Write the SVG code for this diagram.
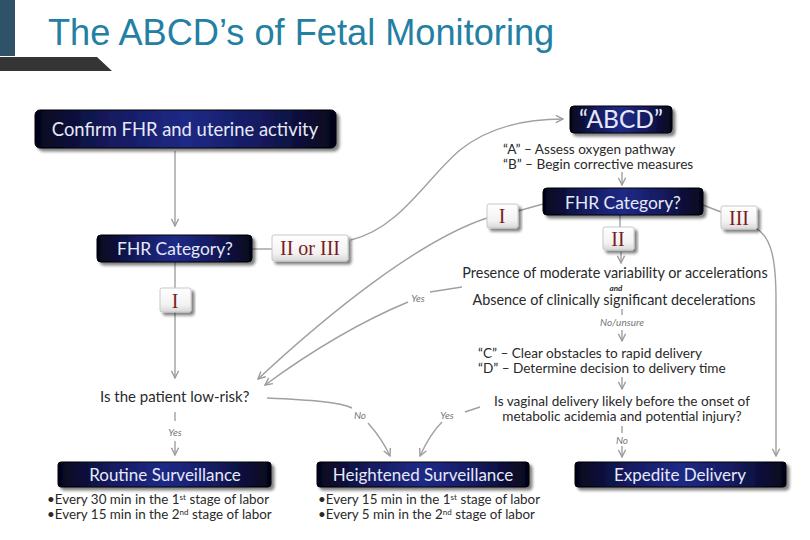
<svg xmlns="http://www.w3.org/2000/svg" width="810" height="540" viewBox="0 0 810 540">
<defs>
<linearGradient id="nav" x1="0" y1="0" x2="1" y2="0">
<stop offset="0" stop-color="#05051a"/>
<stop offset="0.25" stop-color="#141a5e"/>
<stop offset="0.5" stop-color="#1f2a86"/>
<stop offset="0.75" stop-color="#141a5e"/>
<stop offset="1" stop-color="#05051a"/>
</linearGradient>
<linearGradient id="key" x1="0" y1="0" x2="0" y2="1">
<stop offset="0" stop-color="#ffffff"/>
<stop offset="0.7" stop-color="#f2f2f2"/>
<stop offset="1" stop-color="#d8d8d8"/>
</linearGradient>
<filter id="sh" x="-10%" y="-20%" width="125%" height="160%">
<feGaussianBlur in="SourceAlpha" stdDeviation="1.5"/>
<feOffset dx="3" dy="3" result="b"/>
<feComponentTransfer><feFuncA type="linear" slope="0.5"/></feComponentTransfer>
<feMerge><feMergeNode/><feMergeNode in="SourceGraphic"/></feMerge>
</filter>
<marker id="arr" viewBox="0 0 10 10" refX="9" refY="5" markerWidth="9" markerHeight="9" markerUnits="userSpaceOnUse" orient="auto">
<path d="M1,1 L9,5 L1,9" fill="none" stroke="#9a9a9a" stroke-width="1.5"/>
</marker>
</defs>
<style>
.box{fill:url(#nav);stroke:#000;stroke-width:1;filter:url(#sh)}
.bt{font-family:Lato,"Open Sans",sans-serif;fill:#e6e9f7;text-anchor:middle}
.kb{fill:url(#key);stroke:#c8c8c8;stroke-width:1;filter:url(#sh)}
.kt{font-family:"Liberation Serif",serif;fill:#7a1c1c;text-anchor:middle;font-size:20px}
.tx{font-family:Lato,"Open Sans",sans-serif;fill:#2a2a2a}
.sm{font-family:Lato,"Open Sans",sans-serif;fill:#777;font-style:italic;font-size:10px;text-anchor:middle}
.c{fill:none;stroke:#a0a0a0;stroke-width:1.4}
.ca{fill:none;stroke:#a0a0a0;stroke-width:1.4;marker-end:url(#arr)}
</style>
<rect width="810" height="540" fill="#ffffff"/>
<g id="header">
<rect x="0" y="0" width="15" height="56" fill="#2f5268"/>
<polygon points="0,57 97,57 112,71 0,71" fill="#353535"/>
<text x="48" y="45" font-family="Liberation Sans,Arial,sans-serif" font-size="36.2" fill="#2380a3">The ABCD’s of Fetal Monitoring</text>
</g>
<g id="connectors">
<path class="ca" d="M175,151 L175,226"/>
<path class="c" d="M252,249 L272,249"/>
<path class="ca" d="M351,240 C 400,228 425,180 460,150 C 490,126 530,119 563,119"/>
<path class="ca" d="M622,172 L622,185"/>
<path class="c" d="M543,204 L518,211"/>
<path class="c" d="M703,205 L721,212"/>
<path class="c" d="M620,215 L620,227"/>
<path class="ca" d="M621,252 L621,263"/>
<path class="c" d="M622,309 L622,315"/>
<path class="ca" d="M622,330 L622,341"/>
<path class="ca" d="M622,377 L622,389"/>
<path class="c" d="M622,426 L622,433"/>
<path class="ca" d="M622,446 L622,457"/>
<path class="ca" d="M757,229 C 772,238 776,262 776,300 L776,456"/>
<path class="ca" d="M175,262 L175,378"/>
<path class="c" d="M175,412 L175,421"/>
<path class="ca" d="M175,441 L175,455"/>
<path class="ca" d="M487,218 C 420,240 330,312 258,379"/>
<path class="c" d="M462,287 L430,292"/>
<path class="ca" d="M408,302 C 360,322 310,352 265,385"/>
<path class="c" d="M267,398 C 310,400 340,402 352,408"/>
<path class="ca" d="M368,423 C 376,432 385,445 390,456"/>
<path class="c" d="M480,407 L465,412"/>
<path class="ca" d="M442,422 C 432,432 425,445 420,456"/>
</g>
<g id="n-confirm">
<rect class="box" x="35" y="110" width="301" height="38" rx="5"/>
<text class="bt" x="185" y="136" font-size="18.4">Confirm FHR and uterine activity</text>
</g>
<g id="n-cat1">
<rect class="box" x="97" y="235" width="155" height="27" rx="4"/>
<text class="bt" x="175" y="255" font-size="17.4">FHR Category?</text>
</g>
<g id="n-k23">
<rect class="kb" x="272" y="235" width="76" height="26" rx="2"/>
<text class="kt" x="310" y="255">II or III</text>
</g>
<g id="n-k1left">
<rect class="kb" x="160" y="288" width="31" height="24" rx="2"/>
<text class="kt" x="175" y="308">I</text>
</g>
<g id="n-abcd">
<rect class="box" x="570" y="106" width="102" height="27" rx="4"/>
<text class="bt" x="621" y="128" font-size="24.5">“ABCD”</text>
</g>
<g id="n-ab">
<text class="tx" x="503" y="154" font-size="13.6">“A” – Assess oxygen pathway</text>
<text class="tx" x="503" y="169" font-size="13.6">“B” – Begin corrective measures</text>
</g>
<g id="n-cat2">
<rect class="box" x="543" y="188" width="160" height="27" rx="4"/>
<text class="bt" x="623" y="209" font-size="17.4">FHR Category?</text>
</g>
<g id="n-k1right">
<rect class="kb" x="487" y="204" width="31" height="24" rx="2"/>
<text class="kt" x="502" y="223">I</text>
</g>
<g id="n-k2">
<rect class="kb" x="603" y="227" width="31" height="23" rx="2"/>
<text class="kt" x="618" y="246">II</text>
</g>
<g id="n-k3">
<rect class="kb" x="721" y="206" width="36" height="23" rx="2"/>
<text class="kt" x="739" y="225">III</text>
</g>
<g id="n-presence">
<text class="tx" x="615" y="278" font-size="14.4" text-anchor="middle">Presence of moderate variability or accelerations</text>
<text class="tx" x="616" y="290.5" font-size="8" font-style="italic" font-weight="bold" text-anchor="middle">and</text>
<text class="tx" x="614" y="305" font-size="14.4" text-anchor="middle">Absence of clinically significant decelerations</text>
</g>
<g id="n-cd">
<text class="tx" x="478" y="358" font-size="13.6">“C” – Clear obstacles to rapid delivery</text>
<text class="tx" x="478" y="373" font-size="13.6">“D” – Determine decision to delivery time</text>
</g>
<g id="n-vaginal">
<text class="tx" x="622" y="406" font-size="13.6" text-anchor="middle">Is vaginal delivery likely before the onset of</text>
<text class="tx" x="622" y="421" font-size="13.6" text-anchor="middle">metabolic acidemia and potential injury?</text>
</g>
<g id="n-lowrisk">
<text class="tx" x="100" y="402" font-size="15">Is the patient low-risk?</text>
</g>
<g id="labels">
<text class="sm" x="418" y="302">Yes</text>
<text class="sm" x="360" y="419">No</text>
<text class="sm" x="447" y="419">Yes</text>
<text class="sm" x="175" y="436">Yes</text>
<text class="sm" x="622" y="326">No/unsure</text>
<text class="sm" x="622" y="444">No</text>
</g>
<g id="n-routine">
<rect class="box" x="58" y="462" width="213" height="25" rx="3"/>
<text class="bt" x="165" y="481" font-size="17">Routine Surveillance</text>
<text class="tx" x="47" y="504" font-size="13.4">•Every 30 min in the 1<tspan font-size="8" dy="-4">st</tspan><tspan dy="4"> stage of labor</tspan></text>
<text class="tx" x="47" y="519" font-size="13.4">•Every 15 min in the 2<tspan font-size="8" dy="-4">nd</tspan><tspan dy="4"> stage of labor</tspan></text>
</g>
<g id="n-heightened">
<rect class="box" x="317" y="462" width="212" height="25" rx="3"/>
<text class="bt" x="423" y="481" font-size="17">Heightened Surveillance</text>
<text class="tx" x="318" y="504" font-size="13.4">•Every 15 min in the 1<tspan font-size="8" dy="-4">st</tspan><tspan dy="4"> stage of labor</tspan></text>
<text class="tx" x="318" y="519" font-size="13.4">•Every 5 min in the 2<tspan font-size="8" dy="-4">nd</tspan><tspan dy="4"> stage of labor</tspan></text>
</g>
<g id="n-expedite">
<rect class="box" x="575" y="462" width="211" height="25" rx="3"/>
<text class="bt" x="680" y="481" font-size="17">Expedite Delivery</text>
</g>
</svg>
